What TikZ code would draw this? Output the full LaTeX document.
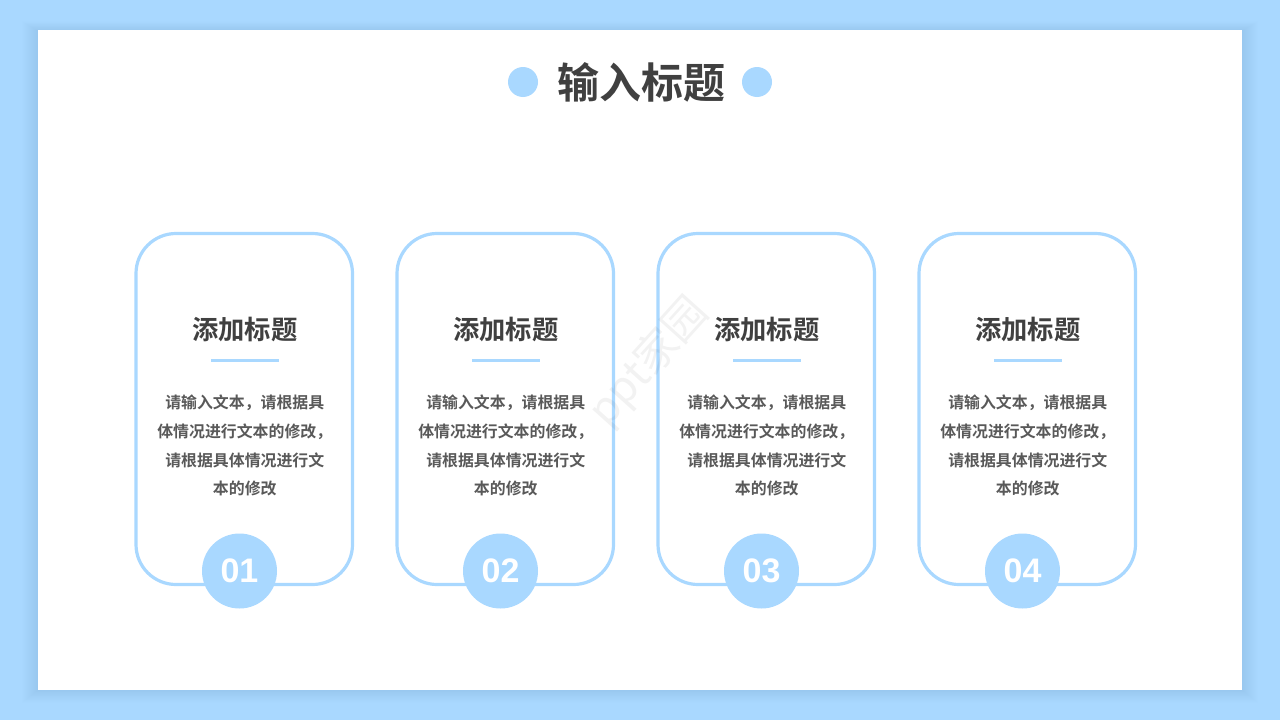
\documentclass[tikz,border=0pt]{standalone}
\usepackage{xcolor}
\usepackage{fontspec}
\usepackage{tikz}
\usetikzlibrary{positioning}
\setmainfont{Liberation Sans}
\newfontfamily\cjk[BoldFont={Noto Sans CJK SC Bold}]{Noto Sans CJK SC}
\definecolor{skyblue}{HTML}{A9D8FF}
\definecolor{skydark}{HTML}{6FB6F0}
\definecolor{inkdark}{HTML}{404040}
\definecolor{inkbody}{HTML}{595959}
\tikzset{
    cardbox/.style={draw=skyblue, line width=3.2pt, fill=white, rounded corners=40pt,
        minimum width=216.5pt, minimum height=351pt, inner sep=0pt},
    numdot/.style={circle, fill=skyblue, minimum size=75pt, inner sep=0pt, text=white,
        font=\bfseries\fontsize{34}{34}\selectfont},
    sidedot/.style={circle, fill=skyblue, minimum size=30pt, inner sep=0pt},
    headtext/.style={text=inkdark, inner sep=0pt, font=\cjk\bfseries\fontsize{26.3}{30}\selectfont},
    bodytext/.style={text=inkbody, align=center, inner sep=0pt, font=\cjk\bfseries\fontsize{15.9}{28.7}\selectfont},
    headrule/.style={fill=skyblue, minimum width=68pt, minimum height=3pt, inner sep=0pt}
}
\begin{document}
\begin{tikzpicture}[x=1pt,y=-1pt]
    \useasboundingbox (0,0) rectangle (1280,720);
    \fill[skyblue] (0,0) rectangle (1280,720);
    % soft shadow round the panel
    \foreach \s in {1,2,...,16}
        \fill[skydark, opacity=0.016] (38-\s,31-\s*0.6) rectangle (1242+\s,690+\s*0.8);
    \node[fill=white, minimum width=1204pt, minimum height=660pt, inner sep=0pt] (panel) at (640,360) {};

    % title row
    \node[text=inkdark, inner sep=0pt, font=\cjk\bfseries\fontsize{42}{46}\selectfont] (title) at (641.5,82) {输入标题};
    \node[sidedot] (dotleft) at (523,82) {};
    \node[sidedot] (dotright) at (757,82) {};

    % the four cards
    \foreach \i/\x/\n in {1/244.25/01, 2/505.25/02, 3/766.25/03, 4/1027.25/04} {
        \node[cardbox] (card\i) at (\x,409) {};
        \node[headtext] (head\i) at (\x+0.5,330) {添加标题};
        \node[headrule, below=16pt of head\i] (rule\i) {};
        \node[bodytext, below=33pt of rule\i] (body\i) {请输入文本，请根据具\\体情况进行文本的修改，\\请根据具体情况进行文\\本的修改};
        \node[numdot] (num\i) at (\x-4.75,571) {\n};
    }

    % watermark
    \node[rotate=48, text=black, opacity=0.05, inner sep=0pt, font=\cjk\fontsize{43}{43}\selectfont] (mark) at (649,362) {ppt家园};
\end{tikzpicture}
\end{document}
